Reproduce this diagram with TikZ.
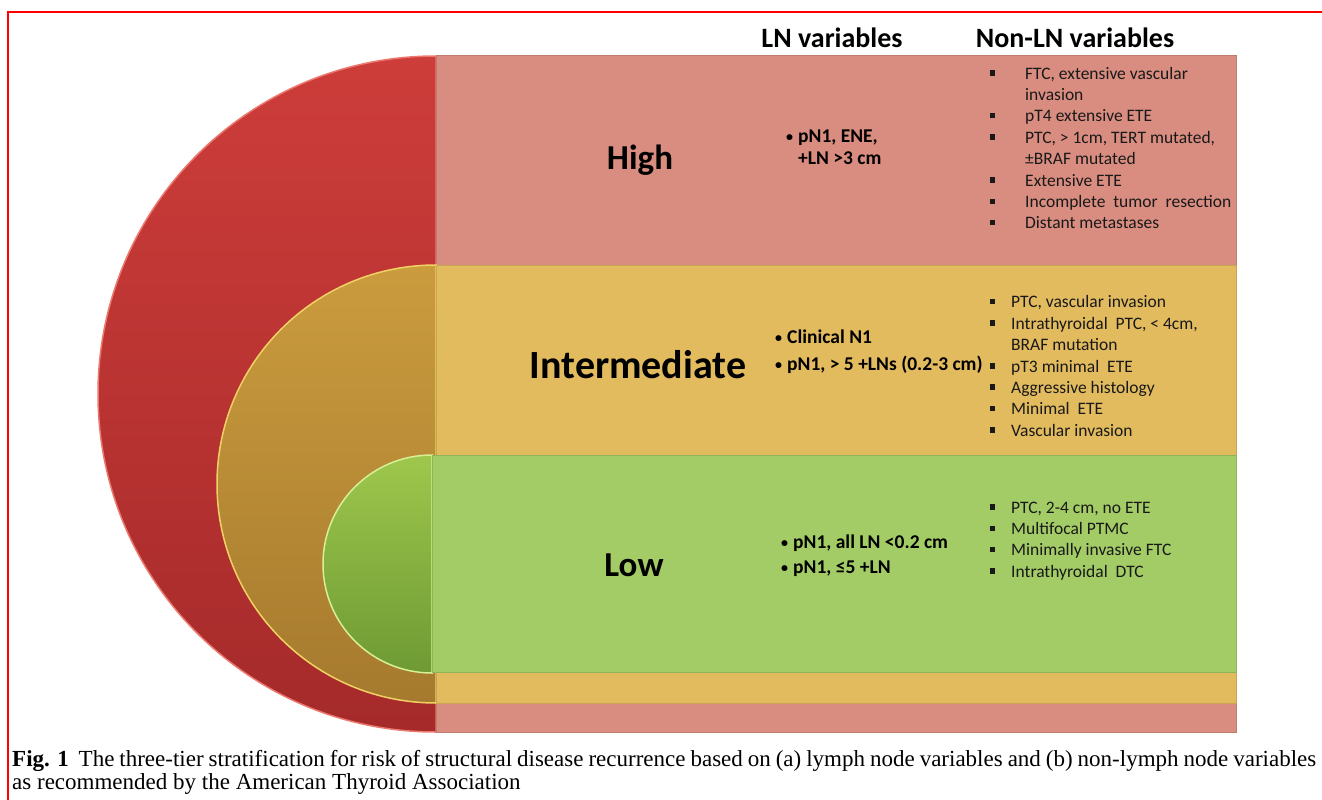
\documentclass[tikz,border=0pt]{standalone}
\usepackage{fontspec}
\setmainfont{Carlito}
\newfontfamily\capfont{Liberation Serif}

\definecolor{highband}{HTML}{D98D80}
\definecolor{midband}{HTML}{E3BB5F}
\definecolor{lowband}{HTML}{A3CC66}
\definecolor{hightop}{HTML}{CD3D3A}
\definecolor{highbot}{HTML}{A52A2A}
\definecolor{highrim}{HTML}{EC786E}
\definecolor{midtop}{HTML}{CB9C3E}
\definecolor{midbot}{HTML}{A67A2E}
\definecolor{midrim}{HTML}{F0D264}
\definecolor{lowtop}{HTML}{9EC74C}
\definecolor{lowbot}{HTML}{6E9A34}
\definecolor{lowrim}{HTML}{D6F096}
\definecolor{framered}{HTML}{FF0000}

\newcommand{\sqbul}{\raisebox{3.5pt}{\rule{5pt}{5.5pt}}}
\newcommand{\hitem}[1]{\makebox[35pt][l]{\sqbul}#1}
\newcommand{\litem}[1]{\makebox[21pt][l]{\sqbul}#1}
\newcommand{\lnitem}[1]{\makebox[12pt][l]{\raisebox{1pt}{\fontsize{14}{14}\selectfont\textbullet}}#1}

\begin{document}
\begin{tikzpicture}[x=1pt, y=-1pt,
  disc/.style={top color=#1top, bottom color=#1bot, draw=#1rim, line width=1.5pt},
  band/.style={fill=#1, draw=#1!88!black, line width=0.8pt},
  tier/.style={font=\bfseries\fontsize{35}{40}\selectfont},
  head/.style={font=\bfseries\fontsize{28}{30}\selectfont},
  lnvar/.style={font=\bfseries\fontsize{19.5}{22}\selectfont, align=left, anchor=west, inner sep=0pt},
  nonln/.style={font=\fontsize{17.5}{21.4}\selectfont, align=left, anchor=west, inner sep=0pt, text=black!90},
  capt/.style={font=\capfont\fontsize{23}{23.5}\selectfont, align=left, anchor=north west, inner sep=0pt}
]
\useasboundingbox (0,0) rectangle (1322,800);
\fill[white] (0,0) rectangle (1322,800);
\draw[framered, line width=2pt] (8,800) -- (8,12) -- (1322,12);

% high tier
\shade[disc=high] (436,732) arc[start angle=90, end angle=270, radius=338] -- cycle;
\draw[band=highband] (436,55) rectangle (1236,732);

% intermediate tier
\shade[disc=mid] (436,703) arc[start angle=90, end angle=270, radius=219] -- cycle;
\draw[band=midband] (436,265) rectangle (1236,703);

% low tier
\shade[disc=low] (432,673) arc[start angle=90, end angle=270, radius=109] -- cycle;
\draw[band=lowband] (432,455) rectangle (1236,672);

\node[head] (lnhead) at (832,38) {LN variables};
\node[head] (nonlnhead) at (1075,38) {Non-LN variables};

\node[tier] (high) at (640,160) {High};
\node[tier, font=\bfseries\fontsize{40}{46}\selectfont] (inter) at (638,365) {Intermediate};
\node[tier] (low) at (634,565) {Low};

\node[lnvar] (highln) at (786,147.5) {\lnitem{pN1, ENE,}\\\hspace*{12pt}+LN >3 cm};
\node[lnvar] (interln) at (775,352) {\lnitem{Clinical N1}\\[5pt]\lnitem{pN1, > 5 +LNs (0.2-3 cm)}};
\node[lnvar] (lowln) at (781,555.5) {\lnitem{pN1, all LN <0.2 cm}\\[3pt]\lnitem{pN1, ≤5 +LN}};

\node[nonln] (highnon) at (990,148) {\hitem{FTC, extensive vascular}\\\hspace*{35pt}invasion\\
  \hitem{pT4 extensive ETE}\\\hitem{PTC, > 1cm, TERT mutated,}\\\hspace*{35pt}±BRAF mutated\\
  \hitem{Extensive ETE}\\\hitem{Incomplete\ \ tumor\ \ resection}\\\hitem{Distant metastases}};
\node[nonln] (internon) at (990,366) {\litem{PTC, vascular invasion}\\\litem{Intrathyroidal\ \ PTC, < 4cm,}\\\hspace*{21pt}BRAF mutation\\
  \litem{pT3 minimal\ \ ETE}\\\litem{Aggressive histology}\\\litem{Minimal\ \ ETE}\\\litem{Vascular invasion}};
\node[nonln] (lownon) at (990,541) {\litem{PTC, 2-4 cm, no ETE}\\\litem{Multifocal PTMC}\\\litem{Minimally invasive FTC}\\\litem{Intrathyroidal\ \ DTC}};

\node[capt] (caption) at (12,750) {\makebox[1304pt][s]{\textbf{Fig. 1}\ \ The three-tier stratification for risk of structural disease recurrence based on (a) lymph node variables and (b) non-lymph node variables}\\as recommended by the American Thyroid Association};
\end{tikzpicture}
\end{document}
